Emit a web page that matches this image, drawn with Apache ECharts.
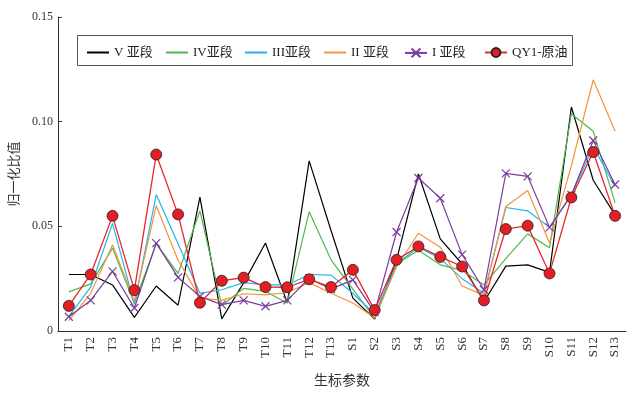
<!DOCTYPE html>
<html><head><meta charset="utf-8">
<script src="https://cdn.jsdelivr.net/npm/echarts@6/dist/echarts.min.js"></script>
<style>html,body{margin:0;padding:0;background:#fff}#c{width:641px;height:393px}</style>
</head><body><div id="c"></div>
<script>
const categories = ['T1','T2','T3','T4','T5','T6','T7','T8','T9','T10','T11','T12','T13','S1','S2','S3','S4','S5','S6','S7','S8','S9','S10','S11','S12','S13'];
const seriesNames = ['V 亚段','IV亚段','III亚段','II 亚段','I 亚段','QY1-原油'];
const sV   = [0.027,0.027,0.022,0.0065,0.0215,0.0123,0.064,0.0058,0.023,0.042,0.0134,0.0813,0.048,0.0157,0.0057,0.034,0.075,0.044,0.032,0.014,0.031,0.0316,0.028,0.107,0.072,0.0555];
const sIV  = [0.0187,0.0225,0.0396,0.0134,0.0417,0.0275,0.0574,0.0121,0.0204,0.0189,0.0134,0.057,0.034,0.020,0.006,0.032,0.0386,0.0316,0.029,0.022,0.0346,0.0464,0.0398,0.1038,0.0954,0.0613];
const sIII = [0.007,0.021,0.0514,0.0127,0.0652,0.0417,0.018,0.0197,0.0231,0.022,0.022,0.027,0.0267,0.018,0.008,0.032,0.040,0.0346,0.025,0.018,0.059,0.0574,0.0495,0.065,0.088,0.069];
const sII  = [0.005,0.018,0.0412,0.0142,0.0598,0.0338,0.0157,0.0146,0.0178,0.0173,0.0184,0.0231,0.018,0.0134,0.0063,0.0307,0.0467,0.040,0.0215,0.017,0.0595,0.0671,0.042,0.079,0.12,0.0954];
const sI   = [0.0068,0.0146,0.0285,0.011,0.042,0.0256,0.0165,0.0126,0.0146,0.0118,0.0146,0.0252,0.020,0.0244,0.009,0.0473,0.0731,0.0634,0.0365,0.0197,0.0753,0.0739,0.0495,0.065,0.091,0.070];
const sQY1 = [0.012,0.027,0.055,0.0195,0.0843,0.0557,0.0135,0.024,0.0255,0.021,0.0209,0.0247,0.021,0.0292,0.010,0.034,0.0404,0.0354,0.0308,0.0146,0.0487,0.0503,0.0275,0.0638,0.0855,0.055];
const yTicks = [0, 0.05, 0.10, 0.15];

const colors = ['#000000','#4fb84f','#1fb6ea','#f5923a','#7a3d9c','#e8262a'];
const serif = '"Liberation Serif","Times New Roman","Noto Sans CJK SC",serif';
const chart = echarts.init(document.getElementById('c'), null, {renderer:'canvas'});

function lineSeries(i, data){
  return {name: seriesNames[i], type:'line', data: data, symbol:'none', z: 2+i,
    lineStyle:{color:colors[i], width:1.2}, itemStyle:{color:colors[i]}, animation:false};
}
const series = [
  lineSeries(0,sV), lineSeries(1,sIV), lineSeries(2,sIII), lineSeries(3,sII),
  {name: seriesNames[4], type:'line', data:sI, symbol:'path://M0,0L10,10M10,0L0,10', symbolSize:8, showSymbol:true,
   lineStyle:{color:colors[4], width:1.2}, itemStyle:{color:'none', borderColor:colors[4], borderWidth:1.2}, z:7, animation:false},
  {name: seriesNames[5], type:'line', data:sQY1, symbol:'circle', symbolSize:11, showSymbol:true,
   lineStyle:{color:colors[5], width:1.3}, itemStyle:{color:'#e31e24', borderColor:'#222', borderWidth:0.8}, z:8, animation:false}
];
const legendLefts = [81, 160, 239, 318, 399, 479];
const legends = seriesNames.map((n,i)=>({
  data:[ i < 4 ? {name:n, itemStyle:{opacity:0}} : {name:n} ],
  left: legendLefts[i], top: 41, itemWidth: 22, itemHeight: 11, itemGap: 0,
  textStyle:{fontFamily: serif, fontSize:13, color:'#222'}, selectedMode:false
}));

chart.setOption({
  backgroundColor:'#fff',
  animation:false,
  grid:{left:49, right:15, top:17, bottom:58},
  legend: legends,
  graphic:[{type:'rect', left:75, top:33, shape:{width:495, height:30}, style:{fill:'none', stroke:'#555', lineWidth:1}, z:100}],
  xAxis:{type:'category', data:categories, boundaryGap:true,
    name:'生标参数', nameLocation:'middle', nameGap:43,
    nameTextStyle:{fontFamily: serif, fontSize:14, color:'#333'},
    axisLine:{lineStyle:{color:'#333', width:1}},
    axisTick:{inside:true, length:4, lineStyle:{color:'#333'}},
    axisLabel:{rotate:90, fontFamily: serif, fontSize:13, color:'#333', margin:6, interval:0}
  },
  yAxis:{type:'value', min:yTicks[0], max:yTicks[yTicks.length-1], interval:0.05,
    name:'归一化比值', nameLocation:'middle', nameGap:34,
    nameTextStyle:{fontFamily: serif, fontSize:13, color:'#333'},
    axisLine:{show:true, lineStyle:{color:'#333', width:1}},
    axisTick:{show:true, inside:true, length:4, lineStyle:{color:'#333'}},
    splitLine:{show:false},
    axisLabel:{fontFamily: serif, fontSize:12, color:'#333', margin:5,
      formatter: v => v===0 ? '0' : v.toFixed(2)}
  },
  series: series
});
</script></body></html>
